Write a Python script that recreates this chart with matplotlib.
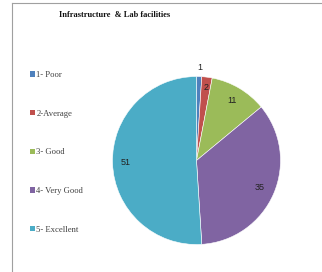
import numpy as np
import matplotlib
matplotlib.use("Agg")
import matplotlib.pyplot as plt
from matplotlib.patches import Patch
from matplotlib.lines import Line2D

TITLE = "Infrastructure  & Lab facilities"
CATEGORIES = ["1- Poor", "2-Average", "3- Good", "4- Very Good", "5- Excellent"]
VALUES = [1, 2, 11, 35, 51]
COLORS = ["#4F81BD", "#C0504D", "#9BBB59", "#8064A2", "#4BACC6"]
# radial position of each data label (fraction of radius), Excel "best fit" look
LABEL_DIST = [1.11, 0.87, 0.83, 0.82, 0.84]

W, H = 322, 272
fig = plt.figure(figsize=(W / 100, H / 100), dpi=100)

# pie axes: centre ~ (196.5, 160.5) px, radius ~84 px
cx, cy, r = 196.5, 160.5, 84
ax = fig.add_axes([(cx - r) / W, (H - cy - r) / H, 2 * r / W, 2 * r / H])
wedges, _ = ax.pie(VALUES, colors=COLORS, startangle=90, counterclock=False,
                   radius=1, wedgeprops=dict(edgecolor="white", linewidth=0.4))
ax.set_xlim(-1, 1)
ax.set_ylim(-1, 1)
ax.set_aspect("equal")
ax.axis("off")

for w, v, d in zip(wedges, VALUES, LABEL_DIST):
    ang = np.deg2rad((w.theta1 + w.theta2) / 2)
    ax.text(d * np.cos(ang), d * np.sin(ang), str(v), ha="center", va="center",
            fontsize=6.5, family="Liberation Sans", color="#222222")

fig.text(59 / W, 1 - 15 / H, TITLE, ha="left", va="center", fontsize=6,
         fontweight="bold", family="Liberation Serif", color="#111111")

handles = [Patch(facecolor=c, edgecolor="none") for c in COLORS]
fig.legend(handles, CATEGORIES, loc="upper left", bbox_to_anchor=(30 / W, 1 - 71 / H),
           frameon=False, borderpad=0, borderaxespad=0, handlelength=0.55,
           handleheight=0.55, handletextpad=0.2, labelspacing=3.56,
           prop=dict(family="Liberation Serif", size=6.2), labelcolor="#404040")

# chart border (left and top edges visible)
fig.add_artist(Line2D([12 / W, 12 / W], [0, 1 - 3 / H], color="#A0A0A0", lw=0.8))
fig.add_artist(Line2D([12 / W, 1], [1 - 3 / H, 1 - 3 / H], color="#A0A0A0", lw=0.8))

fig.savefig("out.png", dpi=100)
